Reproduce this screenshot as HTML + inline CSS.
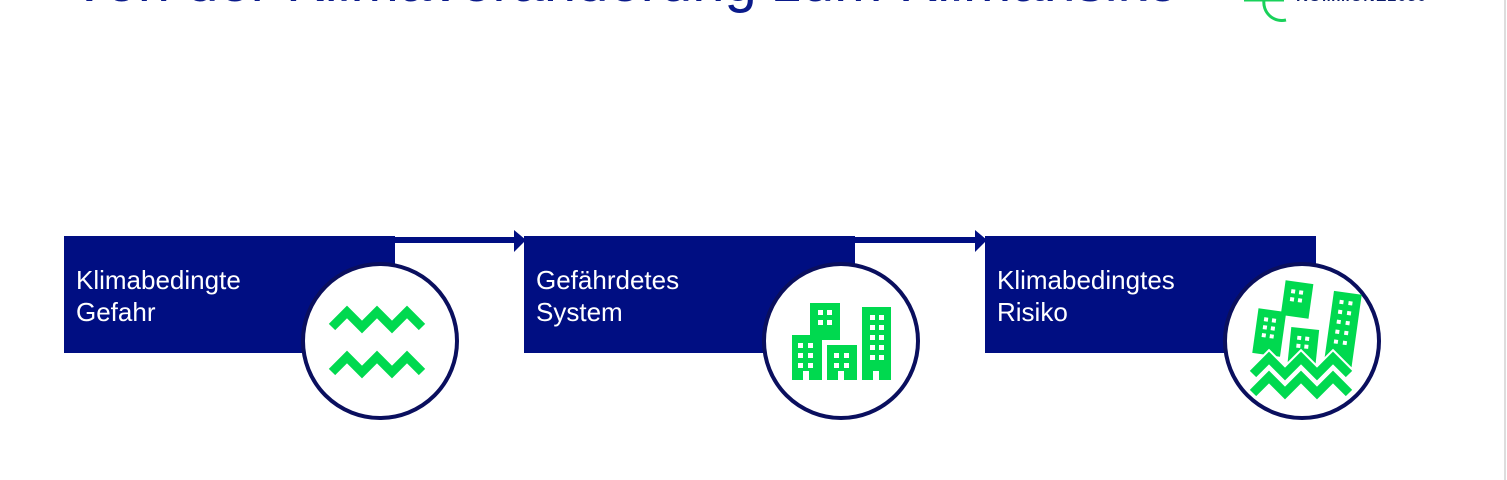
<!DOCTYPE html>
<html><head><meta charset="utf-8"><style>
body{margin:0;width:1507px;height:480px;background:#fff;position:relative;overflow:hidden;font-family:"Liberation Sans",sans-serif}
.t{position:absolute;left:70px;top:-50px;font-size:58px;color:#0a1a8a;white-space:nowrap;line-height:64px}
.box{position:absolute;top:236px;width:331px;height:117px;background:#000e82;color:#fff;font-size:26px;line-height:32px;padding:28px 0 0 12px;box-sizing:border-box}
.c{position:absolute;width:158px;height:158px;border-radius:50%;background:#fff;border:4px solid #0a0f5e;box-sizing:border-box}
svg{position:absolute;left:0;top:0}
.lg{position:absolute;left:1296px;top:-12px;font-size:16px;font-weight:bold;color:#0a1a6a;line-height:18px;letter-spacing:1px}
</style></head><body>
<div class="t">Von der Klimaveränderung zum Klimarisiko</div>
<div class="lg">KOMMUNE2030</div>
<div style="position:absolute;left:1504px;top:0;width:2px;height:480px;background:#ddd"></div>
<div class="box" style="left:64px">Klimabedingte<br>Gefahr</div>
<div class="box" style="left:524px">Gefährdetes<br>System</div>
<div class="box" style="left:985px">Klimabedingtes<br>Risiko</div>
<div class="c" style="left:301px;top:262px"></div>
<div class="c" style="left:762px;top:262px"></div>
<div class="c" style="left:1223px;top:262px"></div>
<svg width="1507" height="480">
<g fill="#000e82"><rect x="395" y="237" width="120" height="6"/><polygon points="514,230 526,240 514,252"/>
<rect x="855" y="237" width="121" height="6"/><polygon points="975,230 987,240 975,252"/></g>
<path d="M1244 0 h40 M1264 0 a18 18 0 0 0 22 20" stroke="#19d15a" stroke-width="3" fill="none"/>
<g fill="#00d94f">
<rect x="810" y="303" width="30" height="37"/><rect x="792" y="335" width="30" height="45"/><rect x="827" y="345" width="30" height="35"/><rect x="862" y="307" width="29" height="73"/>
<g transform="rotate(8 1297 300)"><rect x="1283" y="282" width="28" height="35"/></g>
<g transform="rotate(8 1270 320)"><rect x="1257" y="310" width="28" height="45"/></g>
<g transform="rotate(6 1300 340)"><rect x="1290" y="328" width="28" height="35"/></g>
<g transform="rotate(8 1340 320)"><rect x="1330" y="292" width="28" height="75"/></g>
</g>
<g fill="#fff">
<g transform="rotate(8 1297 300)"><rect x="1290" y="290" width="4" height="4"/><rect x="1298" y="290" width="4" height="4"/><rect x="1290" y="298" width="4" height="4"/><rect x="1298" y="298" width="4" height="4"/></g>
<g transform="rotate(8 1270 320)"><rect x="1264" y="318" width="4" height="4"/><rect x="1272" y="318" width="4" height="4"/><rect x="1264" y="326" width="4" height="4"/><rect x="1272" y="326" width="4" height="4"/><rect x="1264" y="334" width="4" height="4"/><rect x="1272" y="334" width="4" height="4"/></g>
<g transform="rotate(6 1300 340)"><rect x="1297" y="336" width="4" height="4"/><rect x="1305" y="336" width="4" height="4"/><rect x="1297" y="344" width="4" height="4"/><rect x="1305" y="344" width="4" height="4"/></g>
<g transform="rotate(8 1340 320)"><rect x="1337" y="300" width="4" height="4"/><rect x="1346" y="300" width="4" height="4"/><rect x="1337" y="310" width="4" height="4"/><rect x="1346" y="310" width="4" height="4"/><rect x="1337" y="320" width="4" height="4"/><rect x="1346" y="320" width="4" height="4"/><rect x="1337" y="330" width="4" height="4"/><rect x="1346" y="330" width="4" height="4"/><rect x="1337" y="340" width="4" height="4"/><rect x="1346" y="340" width="4" height="4"/></g>
<rect x="818" y="310" width="5" height="5"/><rect x="827" y="310" width="5" height="5"/><rect x="818" y="320" width="5" height="5"/><rect x="827" y="320" width="5" height="5"/>
<rect x="798" y="343" width="5" height="5"/><rect x="808" y="343" width="5" height="5"/><rect x="798" y="353" width="5" height="5"/><rect x="808" y="353" width="5" height="5"/><rect x="798" y="363" width="5" height="5"/><rect x="808" y="363" width="5" height="5"/>
<rect x="834" y="353" width="5" height="5"/><rect x="844" y="353" width="5" height="5"/><rect x="834" y="363" width="5" height="5"/><rect x="844" y="363" width="5" height="5"/>
<rect x="870" y="315" width="5" height="5"/><rect x="879" y="315" width="5" height="5"/><rect x="870" y="325" width="5" height="5"/><rect x="879" y="325" width="5" height="5"/><rect x="870" y="335" width="5" height="5"/><rect x="879" y="335" width="5" height="5"/><rect x="870" y="345" width="5" height="5"/><rect x="879" y="345" width="5" height="5"/><rect x="870" y="355" width="5" height="5"/><rect x="879" y="355" width="5" height="5"/>
<rect x="803" y="371" width="6" height="9"/><rect x="838" y="371" width="6" height="9"/><rect x="873" y="371" width="6" height="9"/>
</g>
<g stroke="#00d94f" stroke-width="9" fill="none" stroke-linejoin="miter">
<path d="M332 327 l15-15 l15 15 l15-15 l15 15 l15-15 l15 15"/>
<path d="M332 372 l15-15 l15 15 l15-15 l15 15 l15-15 l15 15"/>
<path d="M1253 374 l16-16 l16 16 l16-16 l16 16 l16-16 l16 16" stroke="#fff" stroke-width="13"/>
<path d="M1253 374 l16-16 l16 16 l16-16 l16 16 l16-16 l16 16"/>
<path d="M1253 393 l16-16 l16 16 l16-16 l16 16 l16-16 l16 16"/>
</g>
</svg>
</body></html>
